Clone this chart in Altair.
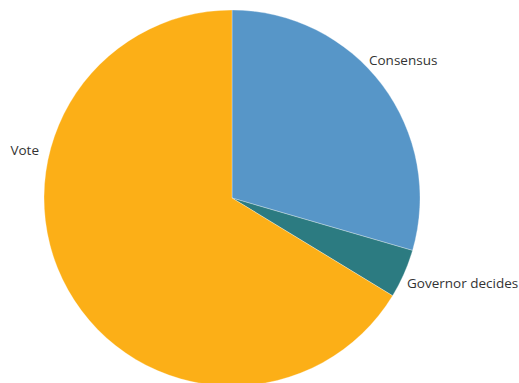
import altair as alt
import pandas as pd

categories = ["Consensus", "Governor decides", "Vote"]
shares = [29.5, 4.2, 66.3]
colors = ["#5796c8", "#2c7b81", "#fcaf17"]

df = pd.DataFrame({"category": categories, "share": shares, "order": list(range(len(categories)))})

pie = alt.Chart(df).mark_arc(radius=188, stroke="white", strokeWidth=0.3).encode(
    theta=alt.Theta("share:Q", stack=True),
    order=alt.Order("order:Q"),
    color=alt.Color("category:N", scale=alt.Scale(domain=categories, range=colors), legend=None),
    x=alt.value(232),
    y=alt.value(198),
)

label_df = pd.DataFrame({"category": categories})
label_specs = {
    "Consensus": dict(x=369, y=61, align="left"),
    "Governor decides": dict(x=407, y=284, align="left"),
    "Vote": dict(x=39, y=151, align="right"),
}
layers = [pie]
for cat in categories:
    s = label_specs[cat]
    layers.append(
        alt.Chart(label_df).transform_filter(alt.datum.category == cat).mark_text(
            align=s["align"], baseline="middle", font="Open Sans", fontSize=13.5, color="#333333"
        ).encode(text="category:N", x=alt.value(s["x"]), y=alt.value(s["y"]))
    )

chart = alt.layer(*layers).properties(
    width=519, height=383, autosize=alt.AutoSizeParams(type="none"), padding=0
).configure_view(stroke=None)

chart.save("out.html", embed_options={"renderer": "svg", "actions": False})
